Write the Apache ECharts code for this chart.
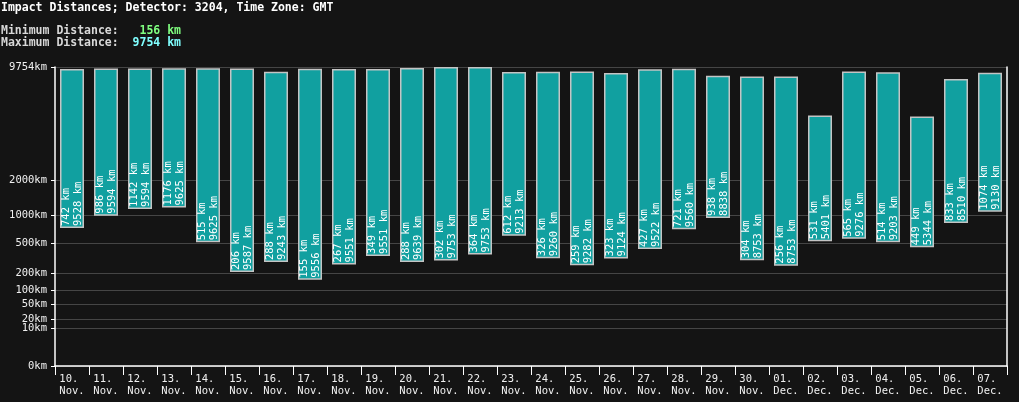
<!DOCTYPE html>
<html>
<head>
<meta charset="utf-8">
<script src="https://cdn.jsdelivr.net/npm/echarts@6/dist/echarts.min.js"></script>
<style>
html,body{margin:0;padding:0;background:#141414;}
#c{width:1019px;height:402px;}
</style>
</head>
<body>
<div id="c"></div>
<script>
const categories = ["10.\nNov.","11.\nNov.","12.\nNov.","13.\nNov.","14.\nNov.","15.\nNov.","16.\nNov.","17.\nNov.","18.\nNov.","19.\nNov.","20.\nNov.","21.\nNov.","22.\nNov.","23.\nNov.","24.\nNov.","25.\nNov.","26.\nNov.","27.\nNov.","28.\nNov.","29.\nNov.","30.\nNov.","01.\nDec.","02.\nDec.","03.\nDec.","04.\nDec.","05.\nDec.","06.\nDec.","07.\nDec."];
const minDist = [742,986,1142,1176,515,206,288,155,267,349,288,302,364,612,326,259,323,427,721,938,304,256,531,565,514,449,833,1074];
const maxDist = [9528,9594,9594,9625,9625,9587,9243,9556,9551,9551,9639,9753,9753,9213,9260,9282,9124,9522,9560,8838,8753,8753,5401,9276,9203,5344,8510,9130];
const tickVals = [0,10,20,50,100,200,500,1000,2000,9754];
const overallMin = 156;
const overallMax = 9754;

const P = 0.3;
const f = v => Math.pow(v, P);
const FONT = '"DejaVu Sans Mono", "Liberation Mono", monospace';

const chart = echarts.init(document.getElementById('c'), null, {renderer:'canvas'});
const tickPos = tickVals.map(f);

const option = {
  backgroundColor: '#141414',
  animation: false,
  graphic: [
    {type:'text', left: 1, top: 2, style:{text:'Impact Distances; Detector: 3204, Time Zone: GMT', fill:'#ffffff', font:'bold 11.5px ' + FONT}},
    {type:'text', left: 1, top: 25, style:{
      text:'{l|Minimum Distance:}{a|   ' + overallMin + ' km}\n{l|Maximum Distance:}{b|  ' + overallMax + ' km}',
      rich:{
        l:{fill:'#d8d8d8', font:'bold 11.5px ' + FONT, lineHeight:12},
        a:{fill:'#80ff80', font:'bold 11.5px ' + FONT, lineHeight:12},
        b:{fill:'#80ffff', font:'bold 11.5px ' + FONT, lineHeight:12}
      }
    }}
  ],
  grid: {left: 55, right: 12, top: 67, bottom: 36, containLabel: false},
  xAxis: {
    type: 'category',
    data: categories.map(c => c.replace('.\n', '. \n')),
    boundaryGap: true,
    axisLine: {lineStyle:{color:'#ffffff', width:1.5}},
    axisTick: {show:true, length:9, lineStyle:{color:'#ffffff'}, interval:0},
    axisLabel: {interval:0, color:'#f0f0f0', fontFamily: FONT, fontSize:10.5, lineHeight:12, margin:7},
    splitLine: {show:false}
  },
  yAxis: [{
    type: 'value',
    min: 0,
    max: f(overallMax),
    axisLine: {show:true, lineStyle:{color:'#ffffff', width:1.5}},
    axisTick: {show:true, length:4, lineStyle:{color:'#ffffff'}, customValues: tickPos},
    axisLabel: {
      color:'#f0f0f0', fontFamily: FONT, fontSize:10.5, margin:8,
      customValues: tickPos,
      formatter: function(v){
        let best = 0, bd = Infinity;
        tickPos.forEach((p,i)=>{ const d=Math.abs(p-v); if(d<bd){bd=d;best=i;} });
        return tickVals[best] + 'km';
      }
    },
    splitLine: {show:true, lineStyle:{color:'#454545', width:1}}
  },{
    type: 'value',
    position: 'right',
    min: 0,
    max: f(overallMax),
    axisLine: {show:true, lineStyle:{color:'#ffffff', width:1.5}},
    axisTick: {show:false},
    axisLabel: {show:false},
    splitLine: {show:false}
  }],
  series: [
    {
      type:'bar', stack:'r', barWidth:24,
      itemStyle:{color:'transparent'},
      data: minDist.map(f),
      silent:true
    },
    {
      type:'bar', stack:'r', barWidth:24,
      itemStyle:{color:'#11a0a0', borderColor:'#c4c4c4', borderWidth:1.5},
      data: maxDist.map((m,i)=>f(m)-f(minDist[i])),
      label:{
        show:true,
        position:'insideBottom',
        rotate:90,
        align:'left',
        verticalAlign:'middle',
        distance:2,
        color:'#ffffff',
        fontFamily: FONT,
        fontSize:10.5,
        lineHeight:12,
        formatter: p => minDist[p.dataIndex] + ' km\n' + maxDist[p.dataIndex] + ' km'
      }
    }
  ]
};
chart.setOption(option);
</script>
</body>
</html>
